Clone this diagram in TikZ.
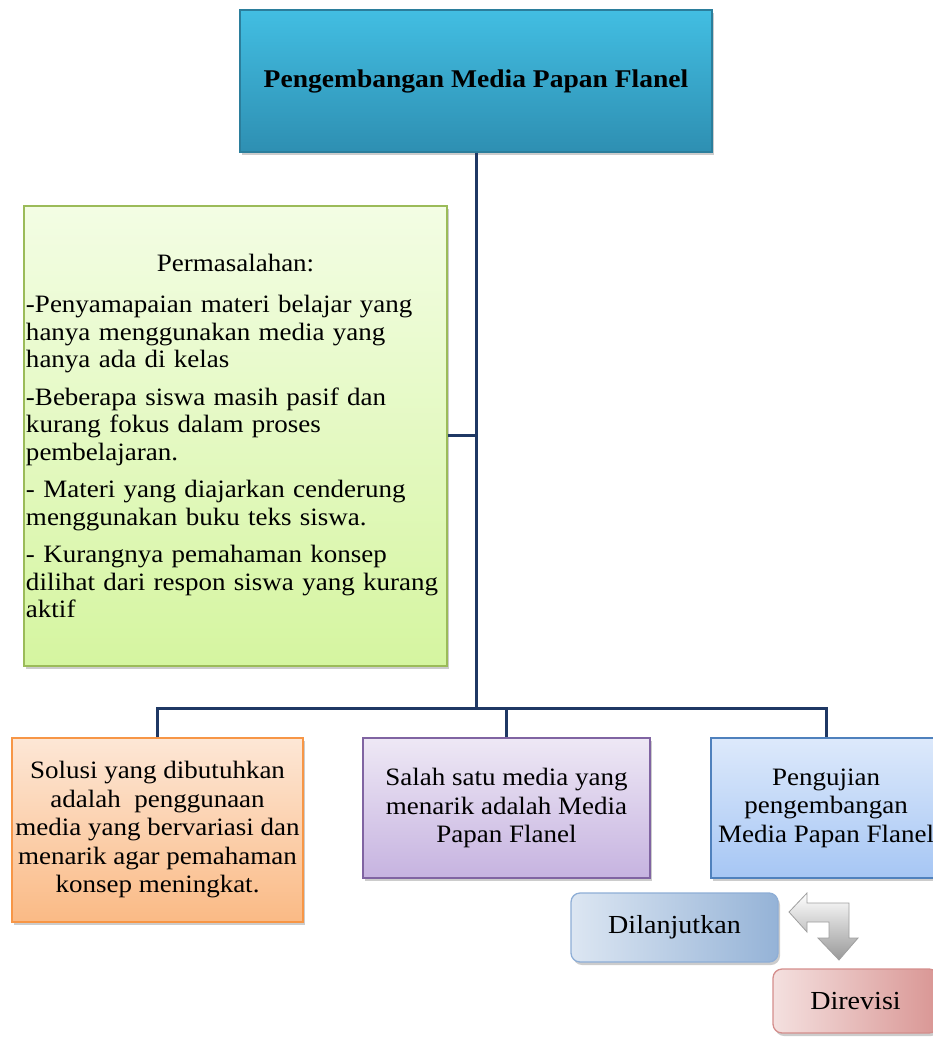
\documentclass[tikz,border=0pt]{standalone}
\usepackage{fontspec}
\setmainfont{Liberation Serif}[FakeStretch=1.08]
\usetikzlibrary{shadows}
\definecolor{navy}{HTML}{1F3864}
\definecolor{tealtop}{HTML}{42BEE2}
\definecolor{tealbot}{HTML}{2E8FB2}
\definecolor{tealbd}{HTML}{2B7E9C}
\definecolor{grntop}{HTML}{F3FDE4}
\definecolor{grnbot}{HTML}{D5F5A0}
\definecolor{grnbd}{HTML}{9BBB59}
\definecolor{orgtop}{HTML}{FDE7D6}
\definecolor{orgbot}{HTML}{FABA85}
\definecolor{orgbd}{HTML}{F79646}
\definecolor{purtop}{HTML}{EEE8F5}
\definecolor{purbot}{HTML}{C6B3E0}
\definecolor{purbd}{HTML}{8064A2}
\definecolor{blutop}{HTML}{DDE9FB}
\definecolor{blubot}{HTML}{A6C6F4}
\definecolor{blubd}{HTML}{4F81BD}
\definecolor{dllight}{HTML}{DCE6F2}
\definecolor{dldark}{HTML}{95B3D7}
\definecolor{dlbd}{HTML}{8EAED6}
\definecolor{rdlight}{HTML}{F4E0DF}
\definecolor{rddark}{HTML}{D99694}
\definecolor{rdbd}{HTML}{D48E8C}
\tikzset{
  x=1pt, y=-1pt,
  boxbase/.style={draw, line width=1.3pt, inner sep=3pt, align=center,
    drop shadow={shadow xshift=2pt, shadow yshift=-3pt, opacity=0.4}},
  txt/.style={font=\fontsize{25}{28.5}\selectfont},
  link/.style={draw=navy, line width=3pt},
}
\begin{document}
\begin{tikzpicture}
\useasboundingbox (0,0) rectangle (933,1040);
% top box
\node[boxbase, draw=tealbd, top color=tealtop, bottom color=tealbot,
  minimum width=472, minimum height=142,
  font=\bfseries\fontsize{25.5}{30}\selectfont] (top) at (476,81) {Pengembangan Media Papan Flanel};
% problems box
\node[boxbase, draw=grnbd, top color=grntop, bottom color=grnbot,
  minimum width=423, minimum height=460, text width=419, align=left, inner sep=2pt,
  font=\fontsize{25}{27.5}\selectfont] (prob) at (235.5,436) {%
{\centering Permasalahan:\par}\vspace{14pt}
-Penyamapaian materi belajar yang\\hanya menggunakan media yang\\hanya ada di kelas\par\vspace{10pt}
-Beberapa siswa masih pasif dan\\kurang fokus dalam proses\\pembelajaran.\par\vspace{10pt}
- Materi yang diajarkan cenderung\\menggunakan buku teks siswa.\par\vspace{10pt}
- Kurangnya pemahaman konsep\\dilihat dari respon siswa yang kurang\\aktif};
% bottom boxes
\node[boxbase, txt, draw=orgbd, top color=orgtop, bottom color=orgbot,
  minimum width=291, minimum height=184] (sol) at (157.5,830)
  {Solusi yang dibutuhkan\\adalah\ \ penggunaan\\media yang bervariasi dan\\menarik agar pemahaman\\konsep meningkat.};
\node[boxbase, txt, draw=purbd, top color=purtop, bottom color=purbot,
  minimum width=287, minimum height=140] (med) at (506.5,808)
  {Salah satu media yang\\menarik adalah Media\\Papan Flanel};
\node[boxbase, txt, draw=blubd, top color=blutop, bottom color=blubot,
  minimum width=230, minimum height=140] (uji) at (826,808)
  {Pengujian\\pengembangan\\Media Papan Flanel};
% result boxes
\node[boxbase, draw=dlbd, rounded corners=9pt, shading angle=135,
  left color=dllight, right color=dldark, font=\fontsize{26}{30}\selectfont,
  minimum width=207, minimum height=69] (lanjut) at (674.5,927.5) {Dilanjutkan};
\node[boxbase, draw=rdbd, rounded corners=9pt, shading angle=135,
  left color=rdlight, right color=rddark, font=\fontsize{26}{30}\selectfont,
  minimum width=165, minimum height=64] (revisi) at (855.5,1001) {Direvisi};
% connectors
\coordinate (jn) at (476,708);
\coordinate (jg) at (476,435);
\draw[link] (top.south) -- (jn);
\draw[link] (prob.east |- jg) -- (jg);
\draw[link] (sol.north) -- (sol.north |- jn) -- (uji.north |- jn) -- (uji.north);
\draw[link] (med.north) -- (med.north |- jn);
% bent arrow
\shade[top color=white, bottom color=gray!80, draw=gray!75, line width=0.8pt]
  (789,912) -- (807,893) -- (807,903) -- (849,903) -- (849,938) -- (858,938)
  -- (839,960) -- (818,938) -- (829,938) -- (829,922) -- (807,922) -- (807,932) -- cycle;
\end{tikzpicture}
\end{document}
